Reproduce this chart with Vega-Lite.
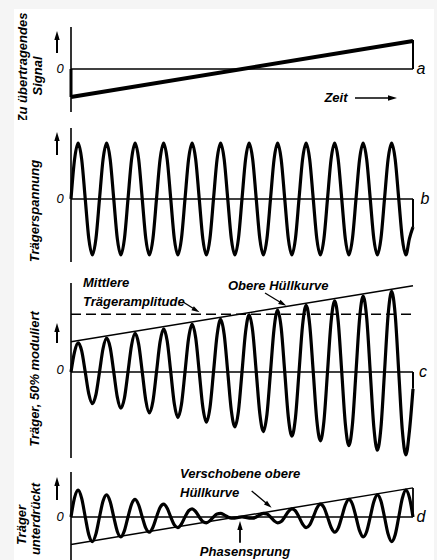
{
"$schema": "https://vega.github.io/schema/vega-lite/v6.json",
"background": "#f5f5f5",
"padding": 0,
"spacing": 0,
"bounds": "flush",
"config": {"view": {"stroke": null}, "axis": {"disable": true}, "mark": {"color": "black"}, "text": {"font": "Liberation Sans", "fontStyle": "italic", "fontSize": 13}},
"datasets": {"wave": [
{"t":0,"b":0,"c":0,"d":0},{"t":0.125,"b":0.707,"c":0.361,"d":0.346},{"t":0.25,"b":1,"c":0.521,"d":0.479},{"t":0.375,"b":0.707,"c":0.376,"d":0.331},
{"t":0.5,"b":0,"c":0,"d":0},{"t":0.625,"b":-0.707,"c":-0.39,"d":-0.317},{"t":0.75,"b":-1,"c":-0.563,"d":-0.438},{"t":0.875,"b":-0.707,"c":-0.405,"d":-0.302},
{"t":1,"b":0,"c":0,"d":0},{"t":1.125,"b":0.707,"c":0.42,"d":0.287},{"t":1.25,"b":1,"c":0.604,"d":0.396},{"t":1.375,"b":0.707,"c":0.435,"d":0.273},
{"t":1.5,"b":0,"c":0,"d":0},{"t":1.625,"b":-0.707,"c":-0.449,"d":-0.258},{"t":1.75,"b":-1,"c":-0.646,"d":-0.354},{"t":1.875,"b":-0.707,"c":-0.464,"d":-0.243},
{"t":2,"b":0,"c":0,"d":0},{"t":2.125,"b":0.707,"c":0.479,"d":0.228},{"t":2.25,"b":1,"c":0.688,"d":0.313},{"t":2.375,"b":0.707,"c":0.494,"d":0.214},
{"t":2.5,"b":0,"c":0,"d":0},{"t":2.625,"b":-0.707,"c":-0.508,"d":-0.199},{"t":2.75,"b":-1,"c":-0.729,"d":-0.271},{"t":2.875,"b":-0.707,"c":-0.523,"d":-0.184},
{"t":3,"b":0,"c":0,"d":0},{"t":3.125,"b":0.707,"c":0.538,"d":0.169},{"t":3.25,"b":1,"c":0.771,"d":0.229},{"t":3.375,"b":0.707,"c":0.552,"d":0.155},
{"t":3.5,"b":0,"c":0,"d":0},{"t":3.625,"b":-0.707,"c":-0.567,"d":-0.14},{"t":3.75,"b":-1,"c":-0.813,"d":-0.188},{"t":3.875,"b":-0.707,"c":-0.582,"d":-0.125},
{"t":4,"b":0,"c":0,"d":0},{"t":4.125,"b":0.707,"c":0.597,"d":0.11},{"t":4.25,"b":1,"c":0.854,"d":0.146},{"t":4.375,"b":0.707,"c":0.611,"d":0.096},
{"t":4.5,"b":0,"c":0,"d":0},{"t":4.625,"b":-0.707,"c":-0.626,"d":-0.081},{"t":4.75,"b":-1,"c":-0.896,"d":-0.104},{"t":4.875,"b":-0.707,"c":-0.641,"d":-0.066},
{"t":5,"b":0,"c":0,"d":0},{"t":5.125,"b":0.707,"c":0.656,"d":0.052},{"t":5.25,"b":1,"c":0.938,"d":0.063},{"t":5.375,"b":0.707,"c":0.67,"d":0.037},
{"t":5.5,"b":0,"c":0,"d":0},{"t":5.625,"b":-0.707,"c":-0.685,"d":-0.022},{"t":5.75,"b":-1,"c":-0.979,"d":-0.021},{"t":5.875,"b":-0.707,"c":-0.7,"d":-0.007},
{"t":6,"b":0,"c":0,"d":0},{"t":6.125,"b":0.707,"c":0.714,"d":-0.007},{"t":6.25,"b":1,"c":1.021,"d":-0.021},{"t":6.375,"b":0.707,"c":0.729,"d":-0.022},
{"t":6.5,"b":0,"c":0,"d":0},{"t":6.625,"b":-0.707,"c":-0.744,"d":0.037},{"t":6.75,"b":-1,"c":-1.063,"d":0.063},{"t":6.875,"b":-0.707,"c":-0.759,"d":0.052},
{"t":7,"b":0,"c":0,"d":0},{"t":7.125,"b":0.707,"c":0.773,"d":-0.066},{"t":7.25,"b":1,"c":1.104,"d":-0.104},{"t":7.375,"b":0.707,"c":0.788,"d":-0.081},
{"t":7.5,"b":0,"c":0,"d":0},{"t":7.625,"b":-0.707,"c":-0.803,"d":0.096},{"t":7.75,"b":-1,"c":-1.146,"d":0.146},{"t":7.875,"b":-0.707,"c":-0.818,"d":0.11},
{"t":8,"b":0,"c":0,"d":0},{"t":8.125,"b":0.707,"c":0.832,"d":-0.125},{"t":8.25,"b":1,"c":1.188,"d":-0.188},{"t":8.375,"b":0.707,"c":0.847,"d":-0.14},
{"t":8.5,"b":0,"c":0,"d":0},{"t":8.625,"b":-0.707,"c":-0.862,"d":0.155},{"t":8.75,"b":-1,"c":-1.229,"d":0.229},{"t":8.875,"b":-0.707,"c":-0.877,"d":0.169},
{"t":9,"b":0,"c":0,"d":0},{"t":9.125,"b":0.707,"c":0.891,"d":-0.184},{"t":9.25,"b":1,"c":1.271,"d":-0.271},{"t":9.375,"b":0.707,"c":0.906,"d":-0.199},
{"t":9.5,"b":0,"c":0,"d":0},{"t":9.625,"b":-0.707,"c":-0.921,"d":0.214},{"t":9.75,"b":-1,"c":-1.313,"d":0.313},{"t":9.875,"b":-0.707,"c":-0.935,"d":0.228},
{"t":10,"b":0,"c":0,"d":0},{"t":10.125,"b":0.707,"c":0.95,"d":-0.243},{"t":10.25,"b":1,"c":1.354,"d":-0.354},{"t":10.375,"b":0.707,"c":0.965,"d":-0.258},
{"t":10.5,"b":0,"c":0,"d":0},{"t":10.625,"b":-0.707,"c":-0.98,"d":0.273},{"t":10.75,"b":-1,"c":-1.396,"d":0.396},{"t":10.875,"b":-0.707,"c":-0.994,"d":0.287},
{"t":11,"b":0,"c":0,"d":0},{"t":11.125,"b":0.707,"c":1.009,"d":-0.302},{"t":11.25,"b":1,"c":1.438,"d":-0.438},{"t":11.375,"b":0.707,"c":1.024,"d":-0.317},
{"t":11.5,"b":0,"c":0,"d":0},{"t":11.625,"b":-0.707,"c":-1.039,"d":0.331},{"t":11.75,"b":-1,"c":-1.479,"d":0.479},{"t":11.875,"b":-0.707,"c":-1.053,"d":0.346},
{"t":12,"b":-0.5,"c":-0.3,"d":0}
]},
"vconcat": [
{
"width": 342, "height": 120,
"data": {"values": [{}]},
"layer": [
{"mark": {"type": "rect", "color": "#f5f5f5"}, "encoding": {"x": {"datum": -2.491, "type": "quantitative", "scale": {"domain": [0, 12], "nice": false, "zero": false}}, "x2": {"datum": 12.842}, "y": {"datum": 1.2321, "type": "quantitative", "scale": {"domain": [-0.9107, 1.2321], "nice": false, "zero": false}}, "y2": {"datum": -0.9107}}},
{"mark": {"type": "rect", "color": "white"}, "encoding": {"x": {"datum": -2.0, "type": "quantitative", "scale": {"domain": [0, 12], "nice": false, "zero": false}}, "x2": {"datum": 12.737}, "y": {"datum": 1.0714, "type": "quantitative", "scale": {"domain": [-0.9107, 1.2321], "nice": false, "zero": false}}, "y2": {"datum": -0.9107}}},
{"mark": {"type": "rule", "strokeWidth": 1.3}, "encoding": {"x": {"datum": 0, "type": "quantitative", "scale": {"domain": [0, 12], "nice": false, "zero": false}}, "x2": {"datum": 12}, "y": {"datum": 0, "type": "quantitative", "scale": {"domain": [-0.9107, 1.2321], "nice": false, "zero": false}}}},
{"mark": {"type": "rule", "strokeWidth": 1.6}, "encoding": {"x": {"datum": 0, "type": "quantitative", "scale": {"domain": [0, 12], "nice": false, "zero": false}}, "y": {"datum": 0.75, "type": "quantitative", "scale": {"domain": [-0.9107, 1.2321], "nice": false, "zero": false}}, "y2": {"datum": -0.768}}},
{"data": {"values": [{"t": 0, "v": -0.5}, {"t": 12, "v": 0.5}]}, "mark": {"type": "line", "strokeWidth": 4}, "encoding": {"x": {"field": "t", "type": "quantitative", "scale": {"domain": [0, 12], "nice": false, "zero": false}}, "y": {"field": "v", "type": "quantitative", "scale": {"domain": [-0.9107, 1.2321], "nice": false, "zero": false}}}},
{"mark": {"type": "rule", "strokeWidth": 3}, "encoding": {"x": {"datum": 0, "type": "quantitative", "scale": {"domain": [0, 12], "nice": false, "zero": false}}, "y": {"datum": 0, "type": "quantitative", "scale": {"domain": [-0.9107, 1.2321], "nice": false, "zero": false}}, "y2": {"datum": -0.5}}},
{"mark": {"type": "rule", "strokeWidth": 2}, "encoding": {"x": {"datum": 12, "type": "quantitative", "scale": {"domain": [0, 12], "nice": false, "zero": false}}, "y": {"datum": 0.52, "type": "quantitative", "scale": {"domain": [-0.9107, 1.2321], "nice": false, "zero": false}}, "y2": {"datum": 0}}},
{"mark": {"type": "rule", "strokeWidth": 2}, "encoding": {"x": {"datum": -0.4912, "type": "quantitative", "scale": {"domain": [0, 12], "nice": false, "zero": false}}, "y": {"datum": 0.286, "type": "quantitative", "scale": {"domain": [-0.9107, 1.2321], "nice": false, "zero": false}}, "y2": {"datum": 0.554}}},
{"mark": {"type": "point", "shape": "M0,-1L0.6,1L-0.6,1Z", "size": 81, "filled": true, "opacity": 1, "strokeWidth": 0}, "encoding": {"x": {"datum": -0.4912, "type": "quantitative", "scale": {"domain": [0, 12], "nice": false, "zero": false}}, "y": {"datum": 0.598, "type": "quantitative", "scale": {"domain": [-0.9107, 1.2321], "nice": false, "zero": false}}}},
{"mark": {"type": "text", "text": "0", "align": "center", "baseline": "middle"}, "encoding": {"x": {"datum": -0.386, "type": "quantitative", "scale": {"domain": [0, 12], "nice": false, "zero": false}}, "y": {"datum": 0, "type": "quantitative", "scale": {"domain": [-0.9107, 1.2321], "nice": false, "zero": false}}}},
{"mark": {"type": "text", "text": "a", "align": "center", "baseline": "middle", "fontSize": 16}, "encoding": {"x": {"datum": 12.281, "type": "quantitative", "scale": {"domain": [0, 12], "nice": false, "zero": false}}, "y": {"datum": 0, "type": "quantitative", "scale": {"domain": [-0.9107, 1.2321], "nice": false, "zero": false}}}},
{"mark": {"type": "text", "text": "Zeit", "align": "center", "baseline": "middle", "fontWeight": "bold"}, "encoding": {"x": {"datum": 9.298, "type": "quantitative", "scale": {"domain": [0, 12], "nice": false, "zero": false}}, "y": {"datum": -0.518, "type": "quantitative", "scale": {"domain": [-0.9107, 1.2321], "nice": false, "zero": false}}}},
{"mark": {"type": "rule", "strokeWidth": 1.5}, "encoding": {"x": {"datum": 9.965, "type": "quantitative", "scale": {"domain": [0, 12], "nice": false, "zero": false}}, "x2": {"datum": 11.263}, "y": {"datum": -0.518, "type": "quantitative", "scale": {"domain": [-0.9107, 1.2321], "nice": false, "zero": false}}}},
{"mark": {"type": "point", "shape": "M0,-1L0.6,1L-0.6,1Z", "size": 81, "filled": true, "opacity": 1, "strokeWidth": 0, "angle": 90}, "encoding": {"x": {"datum": 11.281, "type": "quantitative", "scale": {"domain": [0, 12], "nice": false, "zero": false}}, "y": {"datum": -0.518, "type": "quantitative", "scale": {"domain": [-0.9107, 1.2321], "nice": false, "zero": false}}}},
{"mark": {"type": "text", "text": "Zu übertragendes", "align": "center", "baseline": "middle", "angle": 270, "fontWeight": "bold"}, "encoding": {"x": {"datum": -1.684, "type": "quantitative", "scale": {"domain": [0, 12], "nice": false, "zero": false}}, "y": {"datum": 0.027, "type": "quantitative", "scale": {"domain": [-0.9107, 1.2321], "nice": false, "zero": false}}}},
{"mark": {"type": "text", "text": "Signal", "align": "center", "baseline": "middle", "angle": 270, "fontWeight": "bold"}, "encoding": {"x": {"datum": -1.158, "type": "quantitative", "scale": {"domain": [0, 12], "nice": false, "zero": false}}, "y": {"datum": -0.125, "type": "quantitative", "scale": {"domain": [-0.9107, 1.2321], "nice": false, "zero": false}}}}
]
},
{
"width": 342, "height": 150,
"data": {"values": [{}]},
"layer": [
{"mark": {"type": "rect", "color": "white"}, "encoding": {"x": {"datum": -2.0, "type": "quantitative", "scale": {"domain": [0, 12], "nice": false, "zero": false}}, "x2": {"datum": 12.737}, "y": {"datum": 1.4107, "type": "quantitative", "scale": {"domain": [-1.2679, 1.4107], "nice": false, "zero": false}}, "y2": {"datum": -1.2679}}},
{"mark": {"type": "rule", "strokeWidth": 1.3}, "encoding": {"x": {"datum": 0, "type": "quantitative", "scale": {"domain": [0, 12], "nice": false, "zero": false}}, "x2": {"datum": 12}, "y": {"datum": 0, "type": "quantitative", "scale": {"domain": [-1.2679, 1.4107], "nice": false, "zero": false}}}},
{"mark": {"type": "rule", "strokeWidth": 1.6}, "encoding": {"x": {"datum": 0, "type": "quantitative", "scale": {"domain": [0, 12], "nice": false, "zero": false}}, "y": {"datum": 1.268, "type": "quantitative", "scale": {"domain": [-1.2679, 1.4107], "nice": false, "zero": false}}, "y2": {"datum": -1.125}}},
{"data": {"name": "wave"}, "mark": {"type": "line", "strokeWidth": 3.2, "interpolate": "monotone"}, "encoding": {"x": {"field": "t", "type": "quantitative", "scale": {"domain": [0, 12], "nice": false, "zero": false}}, "y": {"field": "b", "type": "quantitative", "scale": {"domain": [-1.2679, 1.4107], "nice": false, "zero": false}}}},
{"mark": {"type": "rule", "strokeWidth": 2}, "encoding": {"x": {"datum": 12, "type": "quantitative", "scale": {"domain": [0, 12], "nice": false, "zero": false}}, "y": {"datum": 0, "type": "quantitative", "scale": {"domain": [-1.2679, 1.4107], "nice": false, "zero": false}}, "y2": {"datum": -0.5}}},
{"mark": {"type": "rule", "strokeWidth": 2}, "encoding": {"x": {"datum": -0.4912, "type": "quantitative", "scale": {"domain": [0, 12], "nice": false, "zero": false}}, "y": {"datum": 0.786, "type": "quantitative", "scale": {"domain": [-1.2679, 1.4107], "nice": false, "zero": false}}, "y2": {"datum": 1.054}}},
{"mark": {"type": "point", "shape": "M0,-1L0.6,1L-0.6,1Z", "size": 81, "filled": true, "opacity": 1, "strokeWidth": 0}, "encoding": {"x": {"datum": -0.4912, "type": "quantitative", "scale": {"domain": [0, 12], "nice": false, "zero": false}}, "y": {"datum": 1.116, "type": "quantitative", "scale": {"domain": [-1.2679, 1.4107], "nice": false, "zero": false}}}},
{"mark": {"type": "text", "text": "0", "align": "center", "baseline": "middle"}, "encoding": {"x": {"datum": -0.386, "type": "quantitative", "scale": {"domain": [0, 12], "nice": false, "zero": false}}, "y": {"datum": 0, "type": "quantitative", "scale": {"domain": [-1.2679, 1.4107], "nice": false, "zero": false}}}},
{"mark": {"type": "text", "text": "b", "align": "center", "baseline": "middle", "fontSize": 16}, "encoding": {"x": {"datum": 12.421, "type": "quantitative", "scale": {"domain": [0, 12], "nice": false, "zero": false}}, "y": {"datum": 0, "type": "quantitative", "scale": {"domain": [-1.2679, 1.4107], "nice": false, "zero": false}}}},
{"mark": {"type": "text", "text": "Trägerspannung", "align": "center", "baseline": "middle", "angle": 270, "fontWeight": "bold"}, "encoding": {"x": {"datum": -1.263, "type": "quantitative", "scale": {"domain": [0, 12], "nice": false, "zero": false}}, "y": {"datum": -0.214, "type": "quantitative", "scale": {"domain": [-1.2679, 1.4107], "nice": false, "zero": false}}}}
]
},
{
"width": 342, "height": 195,
"data": {"values": [{}]},
"layer": [
{"mark": {"type": "rect", "color": "white"}, "encoding": {"x": {"datum": -2.0, "type": "quantitative", "scale": {"domain": [0, 12], "nice": false, "zero": false}}, "x2": {"datum": 12.737}, "y": {"datum": 1.8214, "type": "quantitative", "scale": {"domain": [-1.6607, 1.8214], "nice": false, "zero": false}}, "y2": {"datum": -1.6607}}},
{"mark": {"type": "rule", "strokeWidth": 1.3}, "encoding": {"x": {"datum": 0, "type": "quantitative", "scale": {"domain": [0, 12], "nice": false, "zero": false}}, "x2": {"datum": 12}, "y": {"datum": 0, "type": "quantitative", "scale": {"domain": [-1.6607, 1.8214], "nice": false, "zero": false}}}},
{"mark": {"type": "rule", "strokeWidth": 1.6}, "encoding": {"x": {"datum": 0, "type": "quantitative", "scale": {"domain": [0, 12], "nice": false, "zero": false}}, "y": {"datum": 1.589, "type": "quantitative", "scale": {"domain": [-1.6607, 1.8214], "nice": false, "zero": false}}, "y2": {"datum": -1.536}}},
{"mark": {"type": "rule", "strokeWidth": 1.5, "strokeDash": [10, 5]}, "encoding": {"x": {"datum": 0, "type": "quantitative", "scale": {"domain": [0, 12], "nice": false, "zero": false}}, "x2": {"datum": 12}, "y": {"datum": 1.03, "type": "quantitative", "scale": {"domain": [-1.6607, 1.8214], "nice": false, "zero": false}}}},
{"data": {"values": [{"t": 0, "v": 0.54}, {"t": 12, "v": 1.54}]}, "mark": {"type": "line", "strokeWidth": 1.5}, "encoding": {"x": {"field": "t", "type": "quantitative", "scale": {"domain": [0, 12], "nice": false, "zero": false}}, "y": {"field": "v", "type": "quantitative", "scale": {"domain": [-1.6607, 1.8214], "nice": false, "zero": false}}}},
{"data": {"name": "wave"}, "mark": {"type": "line", "strokeWidth": 3.2, "interpolate": "monotone"}, "encoding": {"x": {"field": "t", "type": "quantitative", "scale": {"domain": [0, 12], "nice": false, "zero": false}}, "y": {"field": "c", "type": "quantitative", "scale": {"domain": [-1.6607, 1.8214], "nice": false, "zero": false}}}},
{"mark": {"type": "rule", "strokeWidth": 2}, "encoding": {"x": {"datum": 12, "type": "quantitative", "scale": {"domain": [0, 12], "nice": false, "zero": false}}, "y": {"datum": 0, "type": "quantitative", "scale": {"domain": [-1.6607, 1.8214], "nice": false, "zero": false}}, "y2": {"datum": -0.3}}},
{"mark": {"type": "rule", "strokeWidth": 2}, "encoding": {"x": {"datum": -0.4912, "type": "quantitative", "scale": {"domain": [0, 12], "nice": false, "zero": false}}, "y": {"datum": 0.518, "type": "quantitative", "scale": {"domain": [-1.6607, 1.8214], "nice": false, "zero": false}}, "y2": {"datum": 0.75}}},
{"mark": {"type": "point", "shape": "M0,-1L0.6,1L-0.6,1Z", "size": 81, "filled": true, "opacity": 1, "strokeWidth": 0}, "encoding": {"x": {"datum": -0.4912, "type": "quantitative", "scale": {"domain": [0, 12], "nice": false, "zero": false}}, "y": {"datum": 0.795, "type": "quantitative", "scale": {"domain": [-1.6607, 1.8214], "nice": false, "zero": false}}}},
{"mark": {"type": "text", "text": "0", "align": "center", "baseline": "middle"}, "encoding": {"x": {"datum": -0.386, "type": "quantitative", "scale": {"domain": [0, 12], "nice": false, "zero": false}}, "y": {"datum": 0.03, "type": "quantitative", "scale": {"domain": [-1.6607, 1.8214], "nice": false, "zero": false}}}},
{"mark": {"type": "text", "text": "c", "align": "center", "baseline": "middle", "fontSize": 16}, "encoding": {"x": {"datum": 12.351, "type": "quantitative", "scale": {"domain": [0, 12], "nice": false, "zero": false}}, "y": {"datum": 0, "type": "quantitative", "scale": {"domain": [-1.6607, 1.8214], "nice": false, "zero": false}}}},
{"mark": {"type": "text", "text": "Träger, 50% moduliert", "align": "center", "baseline": "middle", "angle": 270, "fontWeight": "bold"}, "encoding": {"x": {"datum": -1.263, "type": "quantitative", "scale": {"domain": [0, 12], "nice": false, "zero": false}}, "y": {"datum": -0.125, "type": "quantitative", "scale": {"domain": [-1.6607, 1.8214], "nice": false, "zero": false}}}},
{"mark": {"type": "text", "text": "Mittlere", "align": "left", "baseline": "middle", "fontWeight": "bold"}, "encoding": {"x": {"datum": 0.421, "type": "quantitative", "scale": {"domain": [0, 12], "nice": false, "zero": false}}, "y": {"datum": 1.589, "type": "quantitative", "scale": {"domain": [-1.6607, 1.8214], "nice": false, "zero": false}}}},
{"mark": {"type": "text", "text": "Trägeramplitude", "align": "left", "baseline": "middle", "fontWeight": "bold"}, "encoding": {"x": {"datum": 0.421, "type": "quantitative", "scale": {"domain": [0, 12], "nice": false, "zero": false}}, "y": {"datum": 1.25, "type": "quantitative", "scale": {"domain": [-1.6607, 1.8214], "nice": false, "zero": false}}}},
{"mark": {"type": "rule", "strokeWidth": 1.3}, "encoding": {"x": {"datum": 3.919, "type": "quantitative", "scale": {"domain": [0, 12], "nice": false, "zero": false}}, "x2": {"datum": 4.421}, "y": {"datum": 1.255, "type": "quantitative", "scale": {"domain": [-1.6607, 1.8214], "nice": false, "zero": false}}, "y2": {"datum": 1.093}}},
{"mark": {"type": "point", "shape": "M0,-1L0.6,1L-0.6,1Z", "size": 64, "filled": true, "opacity": 1, "strokeWidth": 0, "angle": 120}, "encoding": {"x": {"datum": 4.389, "type": "quantitative", "scale": {"domain": [0, 12], "nice": false, "zero": false}}, "y": {"datum": 1.103, "type": "quantitative", "scale": {"domain": [-1.6607, 1.8214], "nice": false, "zero": false}}}},
{"mark": {"type": "text", "text": "Obere Hüllkurve", "align": "left", "baseline": "middle", "fontWeight": "bold"}, "encoding": {"x": {"datum": 5.509, "type": "quantitative", "scale": {"domain": [0, 12], "nice": false, "zero": false}}, "y": {"datum": 1.536, "type": "quantitative", "scale": {"domain": [-1.6607, 1.8214], "nice": false, "zero": false}}}},
{"mark": {"type": "rule", "strokeWidth": 1.3}, "encoding": {"x": {"datum": 6.807, "type": "quantitative", "scale": {"domain": [0, 12], "nice": false, "zero": false}}, "x2": {"datum": 7.456}, "y": {"datum": 1.411, "type": "quantitative", "scale": {"domain": [-1.6607, 1.8214], "nice": false, "zero": false}}, "y2": {"datum": 1.209}}},
{"mark": {"type": "point", "shape": "M0,-1L0.6,1L-0.6,1Z", "size": 64, "filled": true, "opacity": 1, "strokeWidth": 0, "angle": 119}, "encoding": {"x": {"datum": 7.432, "type": "quantitative", "scale": {"domain": [0, 12], "nice": false, "zero": false}}, "y": {"datum": 1.218, "type": "quantitative", "scale": {"domain": [-1.6607, 1.8214], "nice": false, "zero": false}}}}
]
},
{
"width": 342, "height": 95,
"data": {"values": [{}]},
"layer": [
{"mark": {"type": "rect", "color": "white"}, "encoding": {"x": {"datum": -2.0, "type": "quantitative", "scale": {"domain": [0, 12], "nice": false, "zero": false}}, "x2": {"datum": 12.737}, "y": {"datum": 0.9286, "type": "quantitative", "scale": {"domain": [-0.7679, 0.9286], "nice": false, "zero": false}}, "y2": {"datum": -0.7679}}},
{"mark": {"type": "rule", "strokeWidth": 1.3}, "encoding": {"x": {"datum": 0, "type": "quantitative", "scale": {"domain": [0, 12], "nice": false, "zero": false}}, "x2": {"datum": 12}, "y": {"datum": 0, "type": "quantitative", "scale": {"domain": [-0.7679, 0.9286], "nice": false, "zero": false}}}},
{"mark": {"type": "rule", "strokeWidth": 1.6}, "encoding": {"x": {"datum": 0, "type": "quantitative", "scale": {"domain": [0, 12], "nice": false, "zero": false}}, "y": {"datum": 0.804, "type": "quantitative", "scale": {"domain": [-0.7679, 0.9286], "nice": false, "zero": false}}, "y2": {"datum": -0.7679}}},
{"data": {"values": [{"t": 0, "v": -0.49}, {"t": 12, "v": 0.52}]}, "mark": {"type": "line", "strokeWidth": 1.5}, "encoding": {"x": {"field": "t", "type": "quantitative", "scale": {"domain": [0, 12], "nice": false, "zero": false}}, "y": {"field": "v", "type": "quantitative", "scale": {"domain": [-0.7679, 0.9286], "nice": false, "zero": false}}}},
{"mark": {"type": "rule", "strokeWidth": 1.8}, "encoding": {"x": {"datum": 12, "type": "quantitative", "scale": {"domain": [0, 12], "nice": false, "zero": false}}, "y": {"datum": 0.52, "type": "quantitative", "scale": {"domain": [-0.7679, 0.9286], "nice": false, "zero": false}}, "y2": {"datum": 0}}},
{"data": {"name": "wave"}, "mark": {"type": "line", "strokeWidth": 3.2, "interpolate": "monotone"}, "encoding": {"x": {"field": "t", "type": "quantitative", "scale": {"domain": [0, 12], "nice": false, "zero": false}}, "y": {"field": "d", "type": "quantitative", "scale": {"domain": [-0.7679, 0.9286], "nice": false, "zero": false}}}},
{"mark": {"type": "rule", "strokeWidth": 2}, "encoding": {"x": {"datum": -0.4912, "type": "quantitative", "scale": {"domain": [0, 12], "nice": false, "zero": false}}, "y": {"datum": 0.304, "type": "quantitative", "scale": {"domain": [-0.7679, 0.9286], "nice": false, "zero": false}}, "y2": {"datum": 0.589}}},
{"mark": {"type": "point", "shape": "M0,-1L0.6,1L-0.6,1Z", "size": 81, "filled": true, "opacity": 1, "strokeWidth": 0}, "encoding": {"x": {"datum": -0.4912, "type": "quantitative", "scale": {"domain": [0, 12], "nice": false, "zero": false}}, "y": {"datum": 0.634, "type": "quantitative", "scale": {"domain": [-0.7679, 0.9286], "nice": false, "zero": false}}}},
{"mark": {"type": "text", "text": "0", "align": "center", "baseline": "middle"}, "encoding": {"x": {"datum": -0.386, "type": "quantitative", "scale": {"domain": [0, 12], "nice": false, "zero": false}}, "y": {"datum": 0, "type": "quantitative", "scale": {"domain": [-0.7679, 0.9286], "nice": false, "zero": false}}}},
{"mark": {"type": "text", "text": "d", "align": "center", "baseline": "middle", "fontSize": 16}, "encoding": {"x": {"datum": 12.281, "type": "quantitative", "scale": {"domain": [0, 12], "nice": false, "zero": false}}, "y": {"datum": 0, "type": "quantitative", "scale": {"domain": [-0.7679, 0.9286], "nice": false, "zero": false}}}},
{"mark": {"type": "text", "text": "Träger", "align": "center", "baseline": "middle", "angle": 270, "fontWeight": "bold"}, "encoding": {"x": {"datum": -1.702, "type": "quantitative", "scale": {"domain": [0, 12], "nice": false, "zero": false}}, "y": {"datum": -0.143, "type": "quantitative", "scale": {"domain": [-0.7679, 0.9286], "nice": false, "zero": false}}}},
{"mark": {"type": "text", "text": "unterdrückt", "align": "center", "baseline": "middle", "angle": 270, "fontWeight": "bold"}, "encoding": {"x": {"datum": -1.228, "type": "quantitative", "scale": {"domain": [0, 12], "nice": false, "zero": false}}, "y": {"datum": -0.036, "type": "quantitative", "scale": {"domain": [-0.7679, 0.9286], "nice": false, "zero": false}}}},
{"mark": {"type": "text", "text": "Verschobene obere", "align": "left", "baseline": "middle", "fontWeight": "bold"}, "encoding": {"x": {"datum": 3.825, "type": "quantitative", "scale": {"domain": [0, 12], "nice": false, "zero": false}}, "y": {"datum": 0.768, "type": "quantitative", "scale": {"domain": [-0.7679, 0.9286], "nice": false, "zero": false}}}},
{"mark": {"type": "text", "text": "Hüllkurve", "align": "left", "baseline": "middle", "fontWeight": "bold"}, "encoding": {"x": {"datum": 3.825, "type": "quantitative", "scale": {"domain": [0, 12], "nice": false, "zero": false}}, "y": {"datum": 0.429, "type": "quantitative", "scale": {"domain": [-0.7679, 0.9286], "nice": false, "zero": false}}}},
{"mark": {"type": "rule", "strokeWidth": 1.3}, "encoding": {"x": {"datum": 6.34, "type": "quantitative", "scale": {"domain": [0, 12], "nice": false, "zero": false}}, "x2": {"datum": 6.947}, "y": {"datum": 0.464, "type": "quantitative", "scale": {"domain": [-0.7679, 0.9286], "nice": false, "zero": false}}, "y2": {"datum": 0.205}}},
{"mark": {"type": "point", "shape": "M0,-1L0.6,1L-0.6,1Z", "size": 64, "filled": true, "opacity": 1, "strokeWidth": 0, "angle": 130}, "encoding": {"x": {"datum": 6.932, "type": "quantitative", "scale": {"domain": [0, 12], "nice": false, "zero": false}}, "y": {"datum": 0.212, "type": "quantitative", "scale": {"domain": [-0.7679, 0.9286], "nice": false, "zero": false}}}},
{"mark": {"type": "rule", "strokeWidth": 1.8}, "encoding": {"x": {"datum": 5.93, "type": "quantitative", "scale": {"domain": [0, 12], "nice": false, "zero": false}}, "y": {"datum": -0.46, "type": "quantitative", "scale": {"domain": [-0.7679, 0.9286], "nice": false, "zero": false}}, "y2": {"datum": -0.161}}},
{"mark": {"type": "point", "shape": "M0,-1L0.6,1L-0.6,1Z", "size": 81, "filled": true, "opacity": 1, "strokeWidth": 0}, "encoding": {"x": {"datum": 5.93, "type": "quantitative", "scale": {"domain": [0, 12], "nice": false, "zero": false}}, "y": {"datum": -0.152, "type": "quantitative", "scale": {"domain": [-0.7679, 0.9286], "nice": false, "zero": false}}}},
{"mark": {"type": "text", "text": "Phasensprung", "align": "center", "baseline": "alphabetic", "fontWeight": "bold"}, "encoding": {"x": {"datum": 6.105, "type": "quantitative", "scale": {"domain": [0, 12], "nice": false, "zero": false}}, "y": {"datum": -0.69, "type": "quantitative", "scale": {"domain": [-0.7679, 0.9286], "nice": false, "zero": false}}}}
]
}
]
}
